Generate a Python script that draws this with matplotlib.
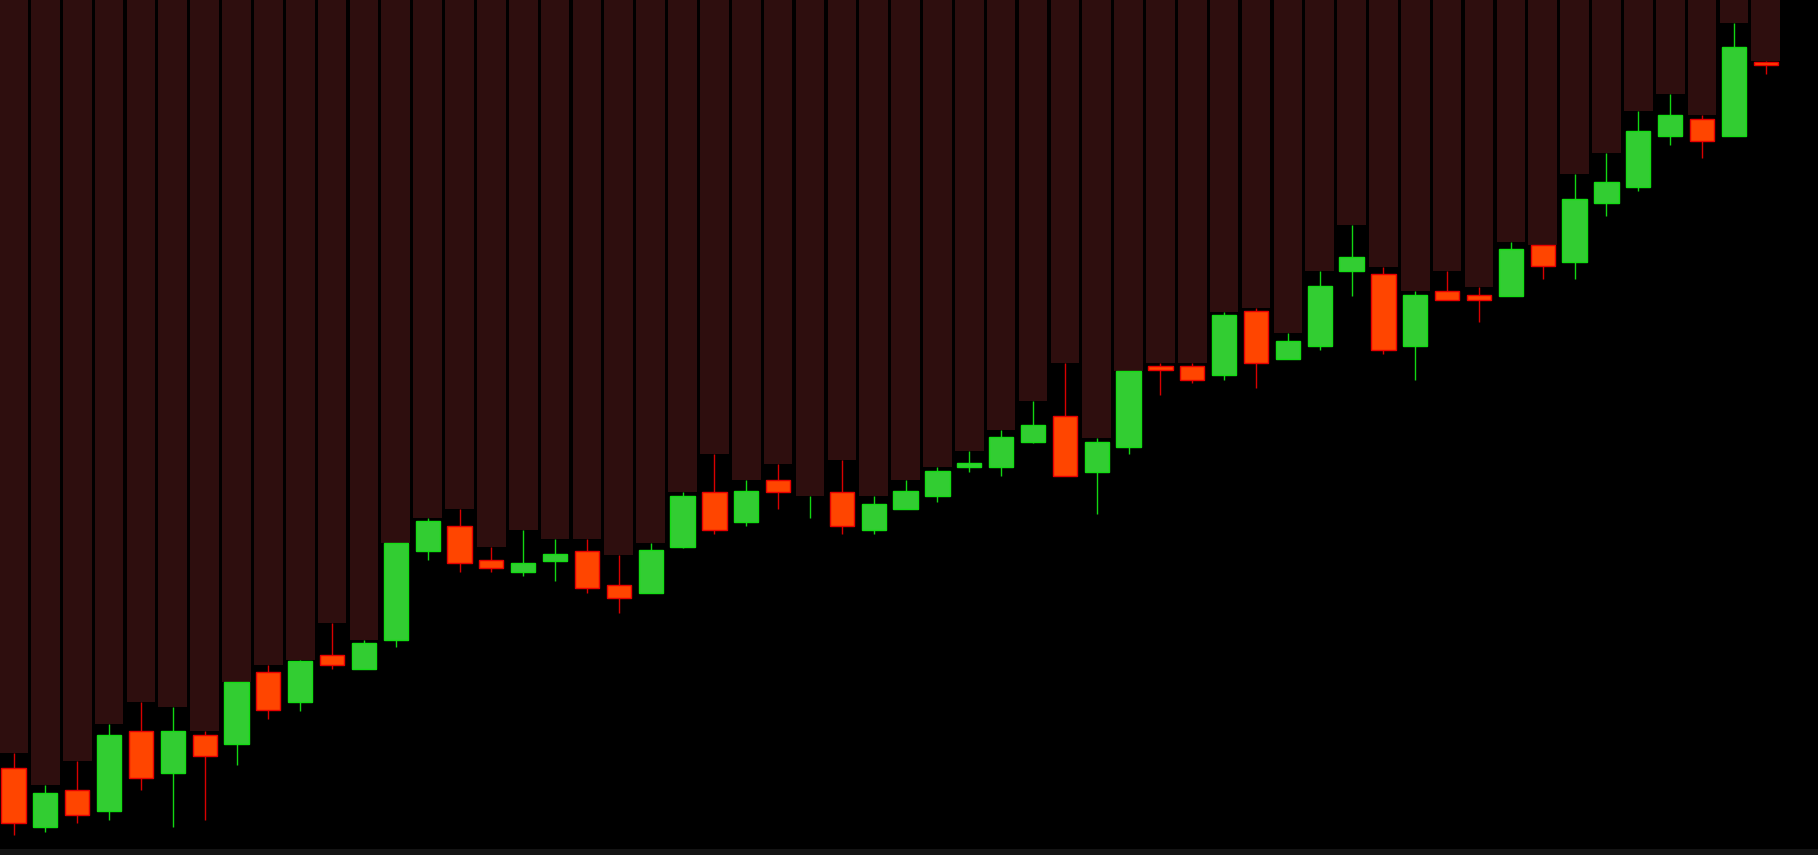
import matplotlib
matplotlib.use("Agg")
import matplotlib.pyplot as plt
import numpy as np

# OHLC data
opens = [108.12, 102.18, 105.94, 103.82, 111.83, 107.63, 111.40, 110.52, 117.72, 114.67,
         119.41, 118.05, 120.94, 129.83, 132.34, 128.95, 127.70, 128.84, 129.83, 126.45,
         125.63, 130.21, 135.72, 132.72, 136.92, 135.24, 135.72, 131.90, 133.97, 135.28,
         138.17, 138.17, 140.68, 143.30, 137.73, 140.24, 148.26, 148.26, 147.38, 153.76,
         149.02, 150.27, 157.85, 157.53, 150.27, 155.84, 155.45, 155.35, 160.36, 158.67,
         164.56, 166.25, 171.32, 172.96, 171.32, 178.74]
highs = [109.65, 106.38, 108.78, 112.54, 114.67, 114.23, 111.78, 116.74, 118.43, 118.87,
         122.57, 120.94, 130.59, 133.10, 133.97, 130.21, 131.90, 131.03, 131.03, 129.39,
         130.59, 135.66, 139.48, 136.86, 138.50, 135.28, 138.93, 135.28, 136.86, 138.17,
         139.81, 141.88, 144.82, 148.58, 141.06, 147.82, 148.58, 148.58, 153.71, 154.09,
         151.58, 157.85, 162.38, 158.24, 155.78, 157.85, 156.16, 160.74, 160.36, 167.51,
         169.58, 173.78, 175.52, 173.39, 182.56, 178.79]
lows = [101.36, 101.75, 102.56, 102.94, 105.89, 102.18, 102.94, 108.40, 113.03, 113.85,
        118.05, 118.00, 120.17, 128.90, 127.70, 127.70, 127.32, 126.77, 125.63, 123.56,
        125.57, 130.15, 131.46, 132.28, 133.97, 133.10, 131.46, 131.46, 133.97, 134.73,
        137.73, 137.35, 140.62, 137.30, 133.53, 139.48, 145.37, 146.57, 146.89, 146.08,
        148.97, 149.89, 155.35, 149.51, 146.89, 154.86, 152.73, 155.29, 156.98, 156.98,
        163.31, 165.82, 170.40, 169.09, 171.27, 177.54]
closes = [102.56, 105.56, 103.44, 111.45, 107.09, 111.83, 109.32, 116.69, 113.90, 118.81,
          118.43, 120.61, 130.59, 132.77, 128.57, 128.14, 128.63, 129.50, 126.06, 125.14,
          129.88, 135.33, 131.95, 135.77, 135.72, 135.28, 132.28, 134.46, 135.77, 137.84,
          138.61, 141.17, 142.42, 137.35, 140.73, 147.77, 147.88, 146.89, 153.38, 148.64,
          150.82, 156.27, 159.16, 149.95, 155.45, 154.91, 154.91, 160.04, 158.29, 165.00,
          166.69, 171.76, 173.45, 170.83, 180.16, 178.36]

Y_MIN, Y_MAX = 100.0, 184.9

o = np.array(opens); h = np.array(highs); l = np.array(lows); c = np.array(closes)
x = np.arange(len(o))
up = c >= o

W, H = 1818, 855
fig = plt.figure(figsize=(W / 100, H / 100), dpi=100, facecolor="#141414")
ax = fig.add_axes([0, 6 / H, 1, 849 / H])
ax.set_facecolor("black")

# dark shading from each high up to the top
ax.bar(x, Y_MAX - h, bottom=h, width=0.9, color="#2e0e0e", linewidth=0, zorder=1)

# wicks
ax.vlines(x[up], l[up], h[up], color="#12d612", linewidth=1.0, zorder=2)
ax.vlines(x[~up], l[~up], h[~up], color="#d80000", linewidth=1.0, zorder=2)

# bodies (skip zero-size doji bodies)
body_bottom = np.minimum(o, c)
body_height = np.abs(c - o)
vis = body_height > 0.05
ax.bar(x[up & vis], body_height[up & vis], bottom=body_bottom[up & vis], width=0.76,
       color="#32cd32", edgecolor="#14dd14", linewidth=1.0, zorder=3)
ax.bar(x[~up & vis], body_height[~up & vis], bottom=body_bottom[~up & vis], width=0.76,
       color="#ff4500", edgecolor="#e80000", linewidth=1.0, zorder=3)

ax.set_xlim(-0.424, 56.64)
ax.set_ylim(Y_MIN, Y_MAX)
ax.set_xticks([]); ax.set_yticks([])
for s in ax.spines.values():
    s.set_visible(False)

fig.savefig("out.png", dpi=100, facecolor=fig.get_facecolor())
